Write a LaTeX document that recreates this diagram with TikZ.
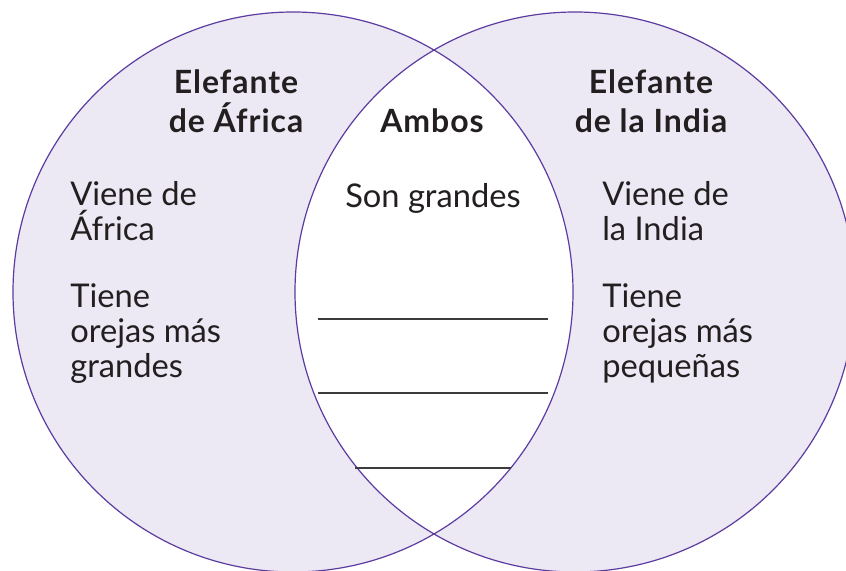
\documentclass[tikz,border=0pt]{standalone}
\usepackage{fontspec}
\setmainfont{Lato}
\newfontfamily\headfont[LetterSpace=3]{Lato}
\usetikzlibrary{positioning}
\definecolor{vennfill}{RGB}{236,232,244}
\definecolor{vennline}{RGB}{92,60,160}
\definecolor{ink}{RGB}{35,31,32}
\definecolor{blankline}{RGB}{60,60,60}

\begin{document}
\begin{tikzpicture}[x=0.75pt,y=-0.75pt,
    title/.style={font=\headfont\bfseries\fontsize{24}{29}\selectfont, text=ink, align=center, inner sep=0pt, anchor=base},
    entry/.style={font=\fontsize{24.5}{26.25}\selectfont, text=ink, align=left, inner sep=0pt, anchor=base west},
    blank/.style={draw=blankline, line width=1pt}]
  \useasboundingbox (0,0) rectangle (846,571);
  \coordinate (africa) at (293,292);
  \coordinate (india) at (575,292);

  % circles and the white middle
  \fill[vennfill] (africa) circle (210pt);
  \fill[vennfill] (india) circle (210pt);
  \begin{scope}
    \clip (africa) circle (210pt);
    \fill[white] (india) circle (210pt);
  \end{scope}
  \draw[vennline, line width=0.9pt] (africa) circle (210pt);
  \draw[vennline, line width=0.9pt] (india) circle (210pt);

  % titles (anchored on their last line)
  \node[title] (tafrica) at (236,132) {Elefante\\de África};
  \node[title] (tambos) at (432,132) {Ambos};
  \node[title] (tindia) at (651,132) {Elefante\\de la India};

  % entries
  \node[entry] (avienede) at (70,240) {Viene de\\África};
  \node[entry] (aorejas) at (70,377) {Tiene\\orejas más\\grandes};
  \node[entry, anchor=base] (son) at (433,207) {Son grandes};
  \node[entry] (ivienede) at (602,240) {Viene de\\la India};
  \node[entry] (iorejas) at (602,377) {Tiene\\orejas más\\pequeñas};

  % lines to write on
  \draw[blank] (318,319) -- (548,319);
  \draw[blank] (318,393) -- (548,393);
  \draw[blank] (355,468) -- (511,468);
\end{tikzpicture}
\end{document}
